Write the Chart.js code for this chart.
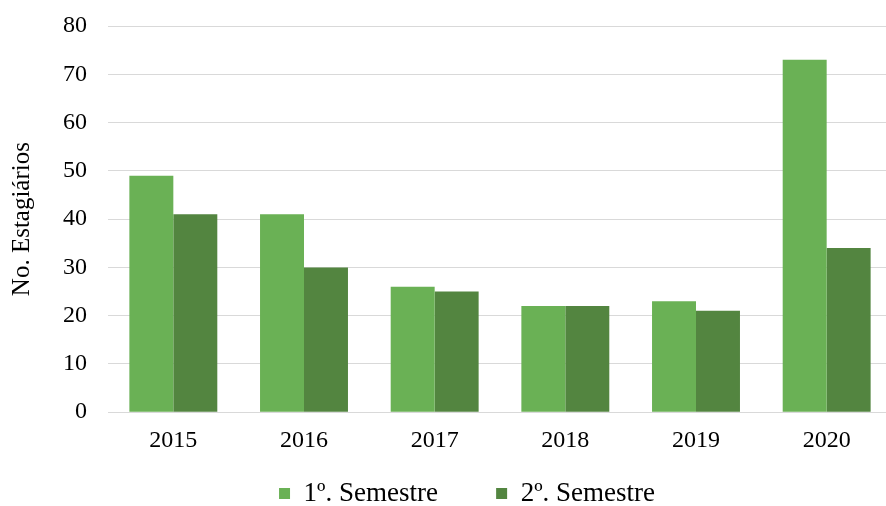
<!DOCTYPE html>
<html>
<head>
<meta charset="utf-8">
<script src="https://cdn.jsdelivr.net/npm/chart.js@4/dist/chart.umd.min.js"></script>
<style>
html,body{margin:0;padding:0;background:#fff;overflow:hidden;}
#wrap{width:886px;height:506px;position:relative;overflow:hidden;}
</style>
</head>
<body>
<div id="wrap"><canvas id="c" width="898" height="517"></canvas></div>
<script>
const categories = ["2015","2016","2017","2018","2019","2020"];
const semestre1 = [49, 41, 26, 22, 23, 73];
const semestre2 = [41, 30, 25, 22, 21, 34];
const seriesNames = ["1º. Semestre", "2º. Semestre"];
const yTitle = "No. Estagiários";

const FONT = "'Liberation Serif', 'Times New Roman', serif";
Chart.defaults.font.family = FONT;
Chart.defaults.color = "#000";

const legendShift = {
  id: 'legendShift',
  afterLayout(chart) {
    if (chart.legend) { chart.legend.left += 21; chart.legend.right += 21; }
  }
};

new Chart(document.getElementById('c'), {
  type: 'bar',
  data: {
    labels: categories,
    datasets: [
      {label: seriesNames[0], data: semestre1, backgroundColor: '#6AB155', borderWidth: 0},
      {label: seriesNames[1], data: semestre2, backgroundColor: '#538540', borderWidth: 0}
    ]
  },
  plugins: [legendShift],
  options: {
    responsive: false,
    animation: false,
    devicePixelRatio: 1,
    layout: {padding: {top: 26, right: 6, left: 0, bottom: 0}},
    datasets: {bar: {categoryPercentage: 0.673, barPercentage: 1}},
    scales: {
      x: {
        grid: {display: false, drawTicks: false},
        border: {display: true, color: '#d9d9d9', width: 1},
        ticks: {font: {size: 24}, padding: 14, color: '#000'}
      },
      y: {
        min: 0, max: 80,
        grid: {color: '#d9d9d9', lineWidth: 1, drawTicks: false},
        border: {display: false},
        ticks: {stepSize: 10, font: {size: 24}, padding: 21, color: '#000'},
        title: {display: true, text: yTitle, font: {size: 25}, color: '#000', padding: {top: 7, bottom: 5}},
        afterFit(scale) { scale.paddingTop = 0; }
      }
    },
    plugins: {
      legend: {
        position: 'bottom',
        labels: {
          font: {size: 27}, boxWidth: 11, boxHeight: 11, padding: 11, color: '#000',
          generateLabels(chart) {
            const items = Chart.defaults.plugins.legend.labels.generateLabels(chart);
            items[0].text = items[0].text + '       ';
            return items;
          }
        }
      },
      tooltip: {enabled: false}
    }
  }
});
</script>
</body>
</html>
